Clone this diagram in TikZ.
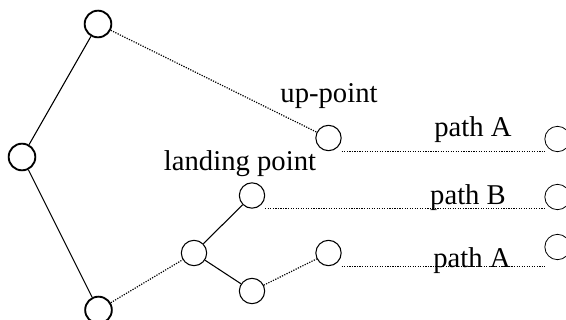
\documentclass[tikz,border=0pt]{standalone}
\usepackage{fontspec}
\setmainfont{Liberation Serif}
\tikzset{every picture/.style={line width=0.75pt}}
\tikzset{
  bignode/.style={draw,circle,minimum size=20,inner sep=0pt,line width=1.4pt},
  smallnode/.style={draw,circle,minimum size=19,inner sep=0pt,line width=0.8pt},
  endnode/.style={draw,circle,minimum size=19,inner sep=0pt,line width=0.6pt},
  tieline/.style={densely dotted,line width=0.9pt},
  solidline/.style={line width=0.8pt},
  lbl/.style={anchor=base,inner sep=0pt,font=\fontsize{21.5}{24}\selectfont}
}

\begin{document}
\begin{tikzpicture}[x=0.75pt,y=0.75pt,yscale=-1,xscale=1]
\useasboundingbox (0,0) rectangle (566,320);

% Circles
        \node [bignode] (top) at (98,24) {};
        \node [bignode] (root) at (22,157) {};
        \node [bignode] (bot) at (98.5,310) {};
        \node [smallnode] (up) at (328.5,138) {};
        \node [smallnode] (land) at (252,195.5) {};
        \node [smallnode] (mid) at (194,253) {};
        \node [smallnode] (low) at (252,291) {};
        \node [smallnode] (rmid) at (328.5,253) {};
        \node [endnode] (endA) at (557.5,139) {};
        \node [endnode] (endB) at (557.5,197) {};
        \node [endnode] (endC) at (557.5,247) {};

% Text Node
        \node [lbl] (upl) at (329,103) {up-point};
        \node [lbl] (landl) at (240,171) {landing point};
        \node [lbl] (pa) at (473,137) {path A};
        \node [lbl] (pb) at (468,204) {path B};
        \node [lbl] (pc) at (472,267) {path A};

% Connection
        \draw [solidline] (root) -- (top);
        \draw [solidline] (root) -- (bot);
        \draw [solidline] (mid) -- (land);
        \draw [solidline] (mid) -- (low);
        \draw [tieline] (top) -- (up);
        \draw [tieline] (bot) -- (mid);
        \draw [tieline] (low) -- (rmid);
        \draw [tieline] (up.south -| up.east) -- (up.south -| endA.west);
        \draw [tieline] (land.south -| land.east) -- (land.south -| endB.west);
        \draw [tieline] (rmid.south -| rmid.east) -- (rmid.south -| endC.west);

\end{tikzpicture}
\end{document}
